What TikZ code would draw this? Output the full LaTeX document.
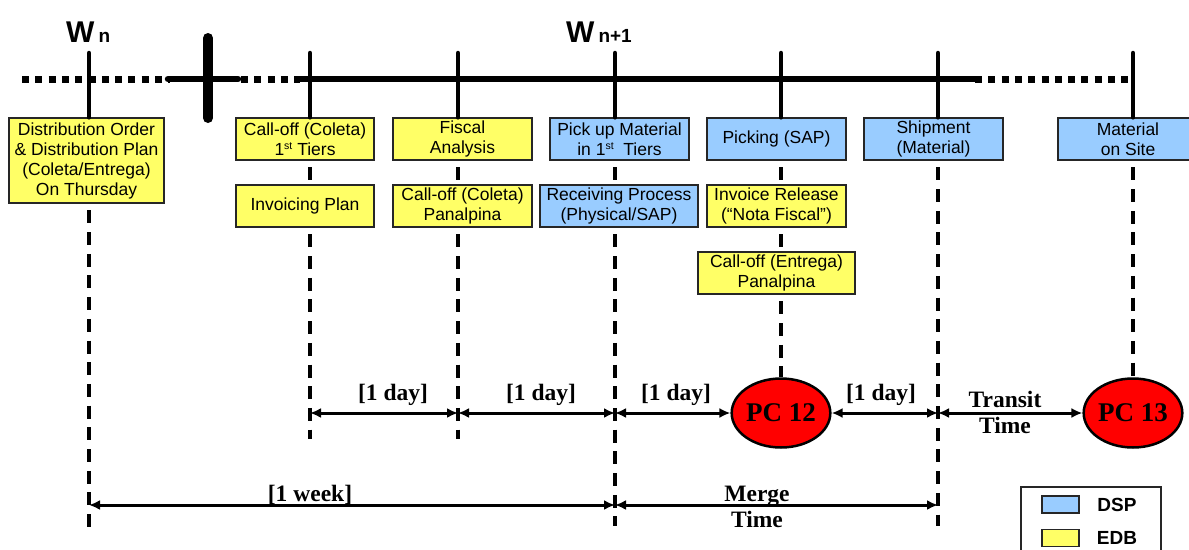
\documentclass[tikz,border=0pt]{standalone}
\usepackage{fontspec}
\setmainfont{Liberation Sans}
\newfontfamily\tnr{Liberation Serif}
\usetikzlibrary{arrows.meta,shapes.geometric}
\definecolor{edb}{HTML}{FFFF66}
\definecolor{dsp}{HTML}{99CCFF}
\definecolor{pcred}{HTML}{FF0000}
\newcommand{\supst}{\raisebox{5.5pt}{\fontsize{10.5}{10.5}\selectfont st}}
\tikzset{
  tbox/.style={draw=black!85, line width=1.3pt, minimum height=42pt, inner sep=0pt, align=center, font=\fontsize{17.5}{20}\selectfont},
  yb/.style={tbox, fill=edb},
  bb/.style={tbox, fill=dsp},
  topline/.style={line width=4.5pt, line cap=round},
  dashline/.style={line width=4.8pt, dash pattern=on 13pt off 8.7pt, dash phase=15pt},
  mainaxis/.style={line width=6.5pt},
  dotaxis/.style={line width=7pt, dash pattern=on 7pt off 6.3pt},
  dimarrow/.style={line width=3pt, {Latex[length=11pt,width=10pt]}-{Latex[length=11pt,width=10pt]}},
  dimlbl/.style={font=\tnr\bfseries\fontsize{23.5}{26}\selectfont, inner sep=0pt, align=center},
  pcnode/.style={ellipse, draw=black, line width=2.5pt, fill=pcred, minimum width=93pt, minimum height=69pt, inner sep=0pt, font=\tnr\bfseries\fontsize{27}{30}\selectfont},
  wlbl/.style={font=\bfseries, inner sep=0pt, anchor=base west},
  swatch/.style={draw=black!85, line width=1.3pt, minimum width=37pt, minimum height=17pt, inner sep=0pt},
  legtext/.style={font=\bfseries\fontsize{19}{19}\selectfont, inner sep=0pt},
}
\begin{document}
\begin{tikzpicture}[x=1pt,y=-1pt]
\useasboundingbox (0,0) rectangle (1189,549);

% timeline axis
\coordinate (ax0) at (22,79);
\coordinate (ax1) at (170,79);
\coordinate (bk0) at (168,79);
\coordinate (bk1) at (238,79);
\coordinate (ax2) at (241,79);
\coordinate (ax3) at (300,79);
\coordinate (ax4) at (975,79);
\coordinate (ax5) at (1133,79);
\draw[dotaxis] (ax0) -- (ax1);
\draw[mainaxis, line cap=round] (bk0) -- (bk1);
\draw[dotaxis] (ax2) -- (ax3);
\draw[mainaxis] (ax3) -- (ax4);
\draw[dotaxis] (ax4) -- (ax5);
% break mark
\coordinate (brk0) at (208,38);
\coordinate (brk1) at (208,118);
\draw[line width=10pt, line cap=round] (brk0) -- (brk1);

% boxes
\node[yb, minimum width=155pt, minimum height=85pt] (dop) at (86.5,160.5) {Distribution Order\\\& Distribution Plan\\(Coleta/Entrega)\\On Thursday};
\node[yb, minimum width=138pt] (cc1) at (305,139) {Call-off (Coleta)\\1\supst{} Tiers};
\node[yb, minimum width=138pt] (ip) at (305,206) {Invoicing Plan};
\node[yb, minimum width=139pt] (fa) at (462.5,139) {Fiscal\\Analysis};
\node[yb, minimum width=139pt] (ccp) at (462.5,206) {Call-off (Coleta)\\Panalpina};
\node[bb, minimum width=139pt] (pum) at (619.5,139) {Pick up Material\\in 1\supst\ \ Tiers};
\node[bb, minimum width=158pt] (rp) at (619,206) {Receiving Process\\(Physical/SAP)};
\node[bb, minimum width=139pt] (pk) at (776.5,139) {Picking (SAP)};
\node[yb, minimum width=139pt] (ir) at (776.5,206) {Invoice Release\\(“Nota Fiscal”)};
\node[yb, minimum width=157pt] (cep) at (776.5,273) {Call-off (Entrega)\\Panalpina};
\node[bb, minimum width=139pt] (sh) at (933.5,139) {Shipment\\(Material)};
\node[bb, minimum width=140pt] (mos) at (1128,139) {Material\\on Site};

\node[pcnode] (pc12) at (781,413) {PC 12};
\node[pcnode] (pc13) at (1133,413) {PC 13};

% vertical lines
\coordinate (t0) at (89,53);   \coordinate (b0) at (89,531);
\coordinate (t1) at (310,53);  \coordinate (b1) at (310,439);
\coordinate (t2) at (458,53);  \coordinate (b2) at (458,439);
\coordinate (t3) at (615,53);  \coordinate (b3) at (615,526);
\coordinate (t4) at (781,53);
\coordinate (t5) at (938,53);  \coordinate (b5) at (938,526);
\coordinate (t6) at (1133,53);

\draw[topline] (t0) -- (t0 |- dop.north);
\draw[dashline] (t0 |- dop.south) -- (b0);
\draw[topline] (t1) -- (t1 |- cc1.north);
\draw[dashline] (t1 |- cc1.south) -- (t1 |- ip.north);
\draw[dashline] (t1 |- ip.south) -- (b1);
\draw[topline] (t2) -- (t2 |- fa.north);
\draw[dashline] (t2 |- fa.south) -- (t2 |- ccp.north);
\draw[dashline] (t2 |- ccp.south) -- (b2);
\draw[topline] (t3) -- (t3 |- pum.north);
\draw[dashline] (t3 |- pum.south) -- (t3 |- rp.north);
\draw[dashline] (t3 |- rp.south) -- (b3);
\draw[topline] (t4) -- (t4 |- pk.north);
\draw[dashline] (t4 |- pk.south) -- (t4 |- ir.north);
\draw[dashline] (t4 |- ir.south) -- (t4 |- cep.north);
\draw[dashline] (t4 |- cep.south) -- (pc12.north);
\draw[topline] (t5) -- (t5 |- sh.north);
\draw[dashline] (t5 |- sh.south) -- (b5);
\draw[topline] (t6) -- (t6 |- mos.north);
\draw[dashline] (t6 |- mos.south) -- (pc13.north);

% dimension arrows
\coordinate (d1) at (310,413);
\coordinate (d2) at (458,413);
\coordinate (d3) at (615,413);
\coordinate (d5) at (938,413);
\draw[dimarrow] (d1) -- (d2);
\draw[dimarrow] (d2) -- (d3);
\draw[dimarrow] (d3) -- (pc12);
\draw[dimarrow] (pc12) -- (d5);
\draw[dimarrow] (d5) -- (pc13);
\coordinate (w0) at (89,505);
\coordinate (w1) at (615,505);
\coordinate (w2) at (938,505);
\draw[dimarrow] (w0) -- (w1);
\draw[dimarrow] (w1) -- (w2);

\node[dimlbl] (l1) at (393,395) {[1 day]};
\node[dimlbl] (l2) at (541,395) {[1 day]};
\node[dimlbl] (l3) at (676,395) {[1 day]};
\node[dimlbl] (l4) at (881,395) {[1 day]};
\node[dimlbl] (l5) at (1005,412) {Transit\\Time};
\node[dimlbl] (l6) at (310,495) {[1 week]};
\node[dimlbl] (l7) at (757,507) {Merge\\Time};

% week labels
\node[wlbl] (wn) at (66,42) {\fontsize{30}{30}\selectfont W\hspace{4pt}\fontsize{19}{19}\selectfont n};
\node[wlbl] (wn1) at (566,42) {\fontsize{30}{30}\selectfont W\hspace{4pt}\fontsize{19}{19}\selectfont n+1};

% legend
\node[draw=black!85, line width=1.5pt, fill=white, minimum width=140pt, minimum height=80pt, anchor=north west, inner sep=0pt] (leg) at (1020,486) {};
\node[swatch, fill=dsp] (sw1) at (1060.5,504.5) {};
\node[legtext] (lt1) at (1117,505) {DSP};
\node[swatch, fill=edb] (sw2) at (1060.5,538) {};
\node[legtext] (lt2) at (1117,538) {EDB};
\end{tikzpicture}
\end{document}
